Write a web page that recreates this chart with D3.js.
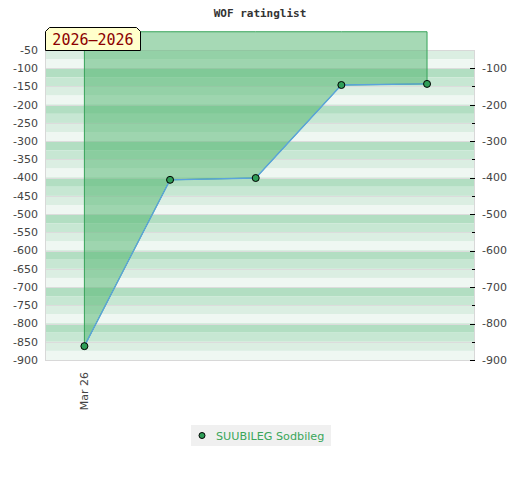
<!DOCTYPE html>
<html><head><meta charset="utf-8">
<script src="https://cdn.jsdelivr.net/npm/d3@7"></script>
<style>body{margin:0;background:#fff}svg{display:block}</style>
</head><body>
<svg id="c" width="520" height="480"></svg>
<script>
const title = "WOF ratinglist";
const periodLabel = "2026–2026";
const playerName = "SUUBILEG Sodbileg";
const xTickLabels = ["Mar 26"];
const pointIndex = [0, 1, 2, 3, 4];
const ratings = [-862, -406, -401, -146, -143];
const leftTicks = [-50,-100,-150,-200,-250,-300,-350,-400,-450,-500,-550,-600,-650,-700,-750,-800,-850,-900];
const rightTicks = [-100,-200,-300,-400,-500,-600,-700,-800,-900];
const stripeColors = ["#b2dec2", "#c7e7d3", "#dbeee2", "#eff7f2"];

const svg = d3.select("#c");
const L = 45, R = 475, T = 50, B = 360;
const y = d3.scaleLinear().domain([-50, -900]).range([T, B]);
const x = d3.scaleLinear().domain([-0.46, 4.56]).range([L, R]);

// stripes
const bands = d3.range(-50, -900, -25);
svg.append("g").selectAll("rect").data(bands).join("rect")
  .attr("x", L).attr("width", R - L)
  .attr("y", d => y(d)).attr("height", d => y(d - 25) - y(d))
  .attr("fill", d => stripeColors[((-d) % 100) / 25]);

// gridlines
svg.append("g").selectAll("line").data(leftTicks).join("line")
  .attr("x1", L).attr("x2", R).attr("y1", d => Math.round(y(d)) + 0.5).attr("y2", d => Math.round(y(d)) + 0.5)
  .attr("stroke", "#dcdcdc").attr("stroke-width", 1);

// border
svg.append("rect").attr("x", L + 0.5).attr("y", T + 0.5).attr("width", R - L - 1).attr("height", B - T)
  .attr("fill", "none").attr("stroke", "#d8d8d8");

// area
const area = d3.area().x((d, i) => x(pointIndex[i])).y0(y(0)).y1(d => y(d));
svg.append("path").attr("d", area(ratings))
  .attr("fill", "rgba(77,179,107,0.5)").attr("stroke", "#37a35a").attr("stroke-width", 1);

// line
const line = d3.line().x((d, i) => x(pointIndex[i])).y(d => y(d));
svg.append("path").attr("d", line(ratings)).attr("fill", "none")
  .attr("stroke", "#5ba3dd").attr("stroke-width", 1.3);

// points
svg.append("g").selectAll("circle").data(ratings).join("circle")
  .attr("cx", (d, i) => x(pointIndex[i])).attr("cy", d => y(d)).attr("r", 3.5)
  .attr("fill", "#2f9e58").attr("stroke", "#000").attr("stroke-width", 1);

// left axis labels
svg.append("g").selectAll("text").data(leftTicks).join("text")
  .attr("x", 38).attr("y", d => y(d)).attr("dy", "0.35em").attr("text-anchor", "end")
  .attr("font-family", "DejaVu Sans, Verdana, sans-serif").attr("font-size", 11).attr("fill", "#444")
  .text(d => d);

// right axis ticks and labels
svg.append("g").selectAll("line").data(d3.range(-100, -901, -50)).join("line")
  .attr("x1", d => (d % 100 === 0) ? R - 5 : R - 3).attr("x2", R)
  .attr("y1", d => Math.round(y(d)) + 0.5).attr("y2", d => Math.round(y(d)) + 0.5)
  .attr("stroke", "#000").attr("stroke-width", 1);
svg.append("g").selectAll("text").data(rightTicks).join("text")
  .attr("x", 482).attr("y", d => y(d)).attr("dy", "0.35em")
  .attr("font-family", "DejaVu Sans, Verdana, sans-serif").attr("font-size", 11).attr("fill", "#444")
  .text(d => d);

// x labels
svg.append("g").selectAll("text").data(xTickLabels).join("text")
  .attr("transform", (d, i) => `translate(${x(i) + 4},372) rotate(-90)`)
  .attr("text-anchor", "end")
  .attr("font-family", "DejaVu Sans, Verdana, sans-serif").attr("font-size", 11).attr("fill", "#444")
  .text(d => d);

// title
svg.append("text").attr("x", 260).attr("y", 17).attr("text-anchor", "middle")
  .attr("font-family", "DejaVu Sans Mono, monospace").attr("font-weight", "bold").attr("font-size", 11)
  .attr("fill", "#333").text(title);

// period label box
const bx0 = 45.5, bx1 = 140.5, by0 = 27.5, by1 = 50.5, c = 4;
svg.append("path")
  .attr("d", `M${bx0},${by1}L${bx0},${by0 + c}L${bx0 + c},${by0}L${bx1 - c},${by0}L${bx1},${by0 + c}L${bx1},${by1}Z`)
  .attr("fill", "#ffffcc").attr("stroke", "#000").attr("stroke-width", 1);
svg.append("text").attr("x", 93).attr("y", 45).attr("text-anchor", "middle")
  .attr("font-family", "DejaVu Sans Mono, monospace").attr("font-size", 15).attr("fill", "#8b0000")
  .text(periodLabel);

// legend
const lg = svg.append("g");
lg.append("rect").attr("x", 191).attr("y", 425).attr("width", 140).attr("height", 21).attr("fill", "#f0f0f0");
lg.append("circle").attr("cx", 202).attr("cy", 435.5).attr("r", 3).attr("fill", "#2f9e58").attr("stroke", "#000");
lg.append("text").attr("x", 216).attr("y", 439.5)
  .attr("font-family", "DejaVu Sans, Verdana, sans-serif").attr("font-size", 11.2).attr("fill", "#3aa65a")
  .text(playerName);
</script>
</body></html>
